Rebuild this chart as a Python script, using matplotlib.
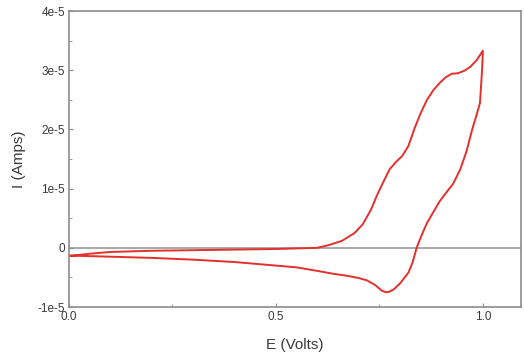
import numpy as np
import matplotlib.pyplot as plt
from matplotlib.ticker import MultipleLocator, FuncFormatter

plt.rcParams['font.family'] = ['Liberation Sans', 'DejaVu Sans']

# anodic sweep, 0 -> 1.0 V (current in units of 1e-5 A)
E_fwd = [0.0, 0.05, 0.1, 0.2, 0.3, 0.4, 0.5, 0.55, 0.6, 0.63, 0.66, 0.69,
         0.71, 0.73, 0.745, 0.76, 0.775, 0.79, 0.805, 0.82, 0.835, 0.85,
         0.865, 0.88, 0.895, 0.91, 0.925, 0.94, 0.955, 0.97, 0.985, 1.0]
I_fwd = [-0.14, -0.10, -0.07, -0.05, -0.04, -0.03, -0.02, -0.01, 0.0, 0.05,
         0.12, 0.25, 0.40, 0.65, 0.90, 1.12, 1.33, 1.45, 1.55, 1.72, 2.02,
         2.28, 2.50, 2.66, 2.78, 2.88, 2.94, 2.95, 2.99, 3.06, 3.17, 3.33]

# cathodic sweep, 1.0 -> 0 V
E_rev = [1.0, 0.998, 0.993, 0.985, 0.975, 0.96, 0.945, 0.928, 0.91, 0.895,
         0.88, 0.865, 0.85, 0.84, 0.83, 0.82, 0.80, 0.785, 0.775, 0.765,
         0.755, 0.74, 0.72, 0.70, 0.67, 0.64, 0.60, 0.55, 0.50, 0.45, 0.40,
         0.35, 0.30, 0.20, 0.10, 0.0]
I_rev = [3.33, 3.0, 2.45, 2.25, 2.02, 1.62, 1.32, 1.08, 0.92, 0.78, 0.60,
         0.42, 0.18, 0.0, -0.25, -0.42, -0.60, -0.70, -0.74, -0.75, -0.72,
         -0.63, -0.55, -0.51, -0.47, -0.44, -0.39, -0.33, -0.30, -0.27, -0.24,
         -0.22, -0.20, -0.17, -0.15, -0.13]

SCALE = 1e-5

fig = plt.figure(figsize=(5.24, 3.59), dpi=100)
ax = fig.add_axes([0.1317, 0.1448, 0.8625, 0.8245])

ax.axhline(0, color='#9a9a9a', lw=1.2, zorder=1)
E = E_fwd + E_rev
I = np.array(I_fwd + I_rev) * SCALE
ax.plot(E, I, color='#e3302c', lw=1.4, zorder=2, solid_joinstyle='round')

ax.set_xlim(0, 1.092)
ax.set_ylim(-1e-5, 4e-5)

ax.xaxis.set_major_locator(MultipleLocator(0.5))
ax.xaxis.set_minor_locator(MultipleLocator(0.25))
ax.yaxis.set_major_locator(MultipleLocator(1e-5))
ax.yaxis.set_minor_locator(MultipleLocator(0.5e-5))
ax.xaxis.set_major_formatter(FuncFormatter(lambda v, p: '%.1f' % v))


def sci(v, p):
    if abs(v) < 1e-12:
        return '0'
    return '%de-5' % round(v / 1e-5)


ax.yaxis.set_major_formatter(FuncFormatter(sci))

for s in ax.spines.values():
    s.set_color('#8c8c8c')
    s.set_linewidth(1.2)

ax.tick_params(which='both', direction='in', color='#8c8c8c', labelcolor='#3a3a3a',
               labelsize=8.5, top=False, right=False)
ax.tick_params(which='major', length=3, pad=3)
ax.tick_params(which='minor', length=2)

ax.set_xlabel('E (Volts)', fontsize=11, color='#3a3a3a', labelpad=11)
ax.set_ylabel('I (Amps)', fontsize=11, color='#3a3a3a', labelpad=8)

fig.savefig('out.png', dpi=100)
